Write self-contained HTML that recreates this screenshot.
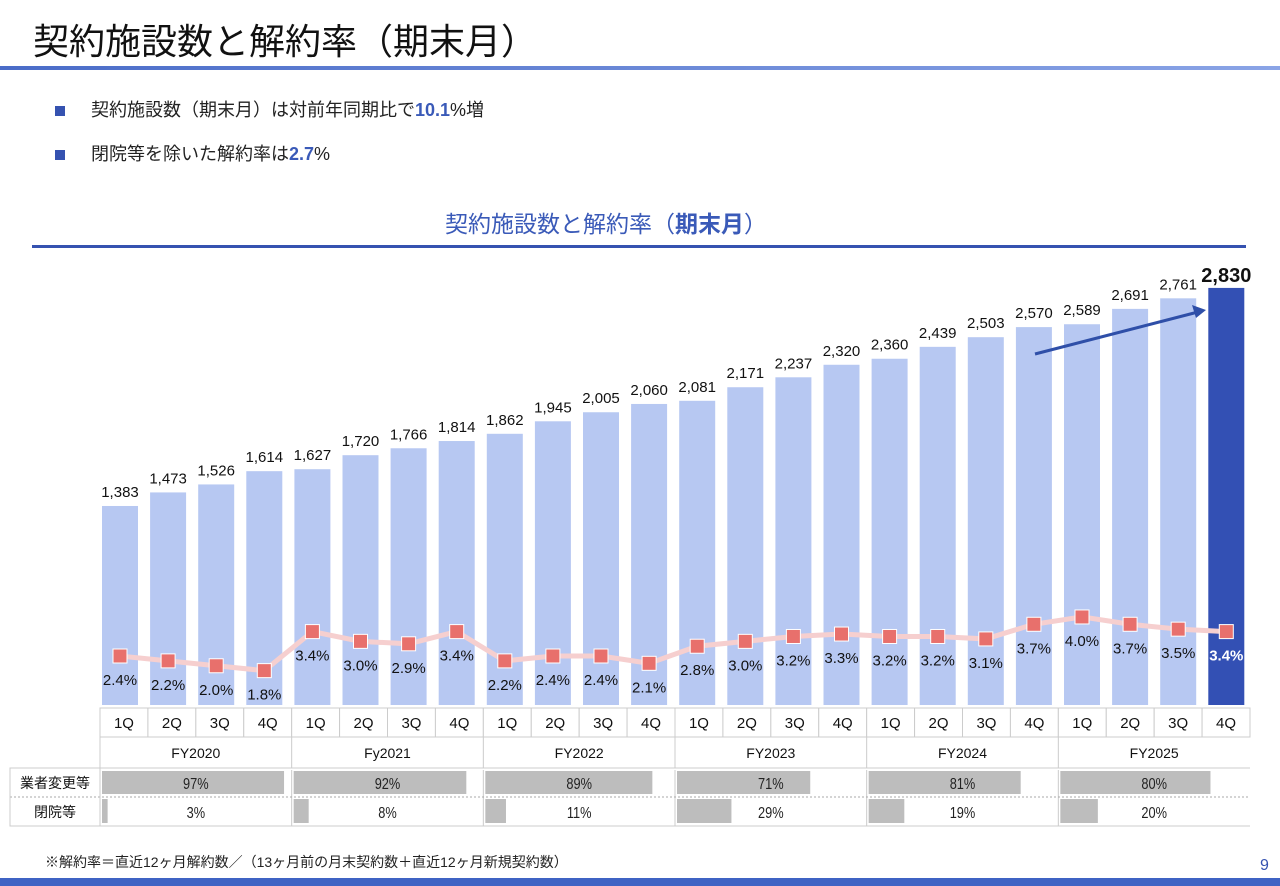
<!DOCTYPE html>
<html><head><meta charset="utf-8"><style>
body{margin:0;width:1280px;height:886px;background:#fff;overflow:hidden;position:relative;font-family:"Liberation Sans","Noto Sans CJK JP",sans-serif;}
.abs{position:absolute;}
</style></head><body>
<div class="abs" style="left:33px;top:13px;font-size:36px;color:#111;white-space:nowrap;">契約施設数と解約率（期末月）</div>
<div class="abs" style="left:0;top:66px;width:1280px;height:4px;background:linear-gradient(90deg,#4a6cc8,#8aa4e6);"></div>
<div class="abs" style="left:55px;top:96px;font-size:18px;color:#222;white-space:nowrap;"><span style="display:inline-block;width:10px;height:10px;background:#3552b0;margin-right:26px;"></span>契約施設数（期末月）は対前年同期比で<b style="color:#3a5ab8">10.1</b>%増</div>
<div class="abs" style="left:55px;top:140px;font-size:18px;color:#222;white-space:nowrap;"><span style="display:inline-block;width:10px;height:10px;background:#3552b0;margin-right:26px;"></span>閉院等を除いた解約率は<b style="color:#3a5ab8">2.7</b>%</div>
<div class="abs" style="left:445px;top:205px;font-size:23px;color:#3a5ab8;white-space:nowrap;">契約施設数と解約率（<b>期末月</b>）</div>
<div class="abs" style="left:32px;top:245px;width:1214px;height:3px;background:#3552b0;"></div>
<svg class="abs" style="left:0;top:0" width="1280" height="886" id="chart"></svg>
<div class="abs" style="left:45px;top:852px;font-size:14px;color:#222;white-space:nowrap;">※解約率＝直近12ヶ月解約数／（13ヶ月前の月末契約数＋直近12ヶ月新規契約数）</div>
<div class="abs" style="left:1260px;top:857px;font-size:16px;color:#3552b0;">9</div>
<div class="abs" style="left:0;top:878px;width:1280px;height:8px;background:#3f63c4;"></div>
<script>
const quarters=["1Q","2Q","3Q","4Q"];
const years=["FY2020","Fy2021","FY2022","FY2023","FY2024","FY2025"];
const counts=[1383,1473,1526,1614,1627,1720,1766,1814,1862,1945,2005,2060,2081,2171,2237,2320,2360,2439,2503,2570,2589,2691,2761,2830];
const rates=[2.4,2.2,2.0,1.8,3.4,3.0,2.9,3.4,2.2,2.4,2.4,2.1,2.8,3.0,3.2,3.3,3.2,3.2,3.1,3.7,4.0,3.7,3.5,3.4];
const vendorPct=[97,92,89,71,81,80];
const closurePct=[3,8,11,29,19,20];
const NS="http://www.w3.org/2000/svg";
const svg=document.getElementById('chart');
function mk(t,a,p){const e=document.createElementNS(NS,t);for(const k in a)e.setAttribute(k,a[k]);(p||svg).appendChild(e);return e;}
const xc=i=>120+48.1*i;
const yv=v=>714.4-0.1507*v;
const yr=r=>656+(2.4-r)*24.4;
const bw=36;
counts.forEach((v,i)=>{
 const last=i===counts.length-1;
 const r=mk('rect',{x:xc(i)-bw/2,y:yv(v),width:bw,height:705-yv(v),fill:last?'#3350b4':'#b7c8f2'});
 
 
 const t=mk('text',{x:xc(i),y:yv(v)-(last?6:9),'text-anchor':'middle','font-size':last?20:15,'font-weight':last?'bold':'normal',fill:'#111'});
 t.textContent=v.toLocaleString('en-US');
 
 
});
const ar=mk('line',{x1:1035,y1:354,x2:1198,y2:312,stroke:'#2f4fa8','stroke-width':3});


const ah=mk('polygon',{points:'1206,310 1192,305 1196,318',fill:'#2f4fa8'});


const pl=mk('polyline',{points:rates.map((r,i)=>xc(i)+','+yr(r)).join(' '),fill:'none',stroke:'#f6cfcf','stroke-width':5});


rates.forEach((r,i)=>{
 const last=i===rates.length-1;
 const m=mk('rect',{x:xc(i)-7,y:yr(r)-7,width:14,height:14,fill:'#e8706c',stroke:'#fff','stroke-width':1});
 
 
 const t=mk('text',{x:xc(i),y:yr(r)+29,'text-anchor':'middle','font-size':15,fill:last?'#fff':'#111','font-weight':last?'bold':'normal'});
 t.textContent=r.toFixed(1)+'%';
 
 
});
const cw=1150/24;
const bg=mk('rect',{x:0,y:706,width:1280,height:62,fill:'#fff'});


for(let i=0;i<24;i++){
 const c=mk('rect',{x:100+cw*i,y:708,width:cw,height:29,fill:'#fff',stroke:'#ccc'});
 
 
 const t=mk('text',{x:100+cw*(i+0.5),y:728,'text-anchor':'middle','font-size':15,fill:'#111'});
 t.textContent=quarters[i%4];
 
 
}
years.forEach((y,g)=>{
 const x0=100+cw*4*g, w=cw*4;
 const l=mk('line',{x1:x0,y1:737,x2:x0,y2:768,stroke:'#ccc'});
 
 
 const t=mk('text',{x:x0+w/2,y:758,'text-anchor':'middle','font-size':14,fill:'#111'});
 t.textContent=y;
 
 
 const b1=mk('rect',{x:x0+2,y:771,width:(w-4)*vendorPct[g]/100,height:23,fill:'#bdbdbd'});
 
 
 const cx=x0+w/2;
 const t1=mk('text',{x:cx,y:789,'text-anchor':'middle','font-size':16,fill:'#222',transform:`translate(${cx},0) scale(0.8,1) translate(${-cx},0)`});
 t1.textContent=vendorPct[g]+'%';
 
 
 const b2=mk('rect',{x:x0+2,y:799,width:(w-4)*closurePct[g]/100,height:24,fill:'#bdbdbd'});
 
 
 const t2=mk('text',{x:cx,y:818,'text-anchor':'middle','font-size':16,fill:'#222',transform:`translate(${cx},0) scale(0.8,1) translate(${-cx},0)`});
 t2.textContent=closurePct[g]+'%';
 
 
 const s=mk('line',{x1:x0,y1:770,x2:x0,y2:826,stroke:'#ccc'});
 
 
});
const fl=mk('line',{x1:100,y1:768,x2:1250,y2:768,stroke:'#ccc'});


const dl=mk('line',{x1:10,y1:797,x2:1250,y2:797,stroke:'#aaa','stroke-dasharray':'2,2'});


const bl=mk('line',{x1:100,y1:826,x2:1250,y2:826,stroke:'#ccc'});


const lb=mk('rect',{x:10,y:768,width:90,height:58,fill:'none',stroke:'#ccc'});


const r1=mk('text',{x:55,y:788,'text-anchor':'middle','font-size':14,fill:'#111'});
r1.textContent='業者変更等';


const r2=mk('text',{x:55,y:817,'text-anchor':'middle','font-size':14,fill:'#111'});
r2.textContent='閉院等';


</script>
</body></html>
